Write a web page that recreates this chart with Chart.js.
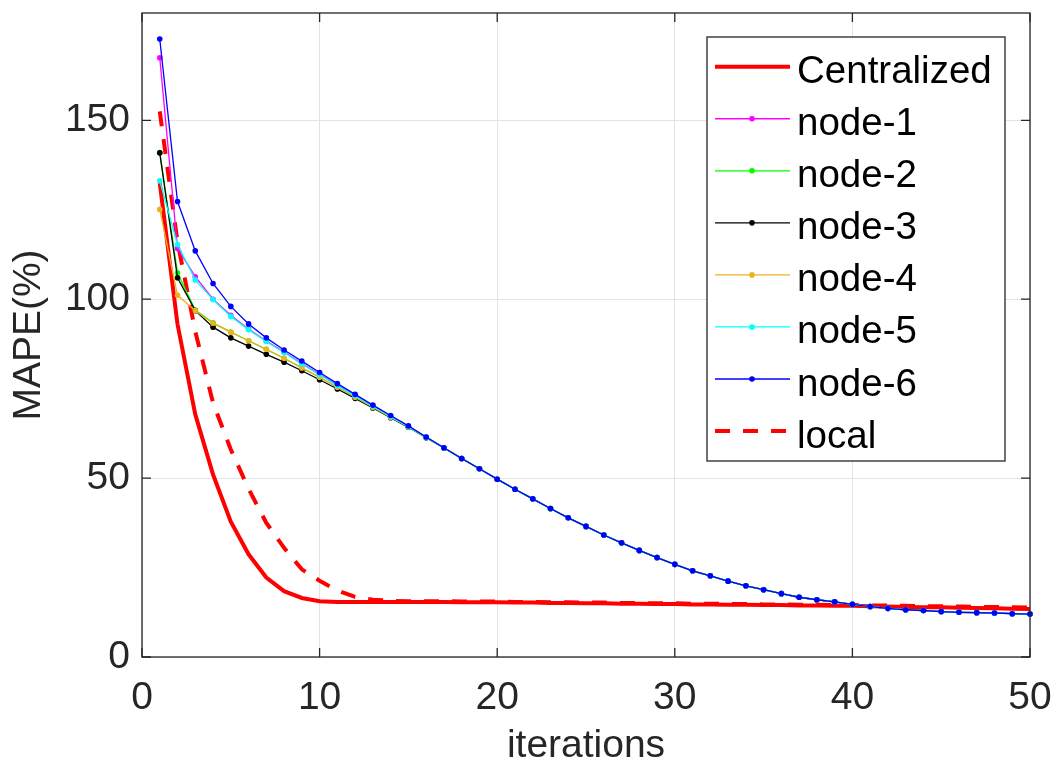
<!DOCTYPE html>
<html>
<head>
<meta charset="utf-8">
<script src="https://cdn.jsdelivr.net/npm/chart.js@4.4.1/dist/chart.umd.min.js"></script>
<style>
  html, body { margin: 0; padding: 0; background: #fff; }
  canvas { display: block; }
</style>
</head>
<body>
<canvas id="mapeChart" width="1064" height="773"></canvas>
<script>
// iteration numbers on the x axis
const iterations = [1, 2, 3, 4, 5, 6, 7, 8, 9, 10, 11, 12, 13, 14, 15, 16, 17, 18, 19, 20,
    21, 22, 23, 24, 25, 26, 27, 28, 29, 30, 31, 32, 33, 34, 35, 36, 37, 38, 39, 40,
    41, 42, 43, 44, 45, 46, 47, 48, 49, 50];

const xTickValues = [0, 10, 20, 30, 40, 50];
const yTickValues = [0, 50, 100, 150];

// MAPE (%) per iteration
const centralized = [132.5, 93.0, 67.8, 51.0, 37.8, 28.7, 22.2, 18.4, 16.5, 15.6,
    15.4, 15.4, 15.4, 15.4, 15.4, 15.4, 15.4, 15.3, 15.3, 15.3,
    15.2, 15.2, 15.1, 15.1, 15.0, 15.0, 14.9, 14.9, 14.8, 14.8,
    14.7, 14.7, 14.6, 14.6, 14.5, 14.5, 14.4, 14.4, 14.3, 14.3,
    14.2, 14.1, 14.0, 13.9, 13.9, 13.8, 13.7, 13.6, 13.5, 13.4];

const node1 = [167.5, 114.2, 106.3, 100.0, 95.5, 91.7, 88.3, 85.2, 82.0, 79.0,
    76.0, 73.1, 70.2, 67.3, 64.5, 61.5, 58.5, 55.5, 52.6, 49.7,
    46.9, 44.2, 41.5, 38.9, 36.5, 34.1, 31.9, 29.8, 27.8, 25.9,
    24.1, 22.7, 21.2, 19.9, 18.8, 17.7, 16.7, 16.0, 15.4, 14.7,
    14.1, 13.6, 13.2, 13.0, 12.7, 12.5, 12.4, 12.3, 12.1, 12.0];

const node2 = [141.0, 107.4, 97.0, 93.4, 90.8, 88.4, 86.0, 83.5, 80.8, 78.2,
    75.4, 72.6, 69.8, 67.0, 64.3, 61.4, 58.5, 55.5, 52.6, 49.7,
    46.9, 44.2, 41.5, 38.9, 36.5, 34.1, 31.9, 29.8, 27.8, 25.9,
    24.1, 22.7, 21.2, 19.9, 18.8, 17.7, 16.7, 16.0, 15.4, 14.7,
    14.1, 13.6, 13.2, 13.0, 12.7, 12.5, 12.4, 12.3, 12.1, 12.0];

const node3 = [140.9, 106.0, 96.8, 92.2, 89.2, 86.9, 84.6, 82.4, 80.0, 77.5,
    74.9, 72.3, 69.6, 66.9, 64.2, 61.3, 58.4, 55.5, 52.6, 49.7,
    46.9, 44.2, 41.5, 38.9, 36.5, 34.1, 31.9, 29.8, 27.8, 25.9,
    24.1, 22.7, 21.2, 19.9, 18.8, 17.7, 16.7, 16.0, 15.4, 14.7,
    14.1, 13.6, 13.2, 13.0, 12.7, 12.5, 12.4, 12.3, 12.1, 12.0];

const node4 = [125.1, 101.1, 96.8, 93.3, 90.8, 88.4, 86.0, 83.5, 80.8, 78.2,
    75.4, 72.6, 69.8, 67.0, 64.3, 61.4, 58.5, 55.5, 52.6, 49.7,
    46.9, 44.2, 41.5, 38.9, 36.5, 34.1, 31.9, 29.8, 27.8, 25.9,
    24.1, 22.7, 21.2, 19.9, 18.8, 17.7, 16.7, 16.0, 15.4, 14.7,
    14.1, 13.6, 13.2, 13.0, 12.7, 12.5, 12.4, 12.3, 12.1, 12.0];

const node5 = [133.1, 115.3, 105.4, 99.9, 95.2, 91.5, 88.2, 85.1, 81.9, 78.9,
    75.9, 73.0, 70.1, 67.2, 64.4, 61.4, 58.5, 55.5, 52.6, 49.7,
    46.9, 44.2, 41.5, 38.9, 36.5, 34.1, 31.9, 29.8, 27.8, 25.9,
    24.1, 22.7, 21.2, 19.9, 18.8, 17.7, 16.7, 16.0, 15.4, 14.7,
    14.1, 13.6, 13.2, 13.0, 12.7, 12.5, 12.4, 12.3, 12.1, 12.0];

const node6 = [172.7, 127.3, 113.5, 104.4, 98.0, 93.1, 89.2, 85.8, 82.7, 79.5,
    76.4, 73.4, 70.4, 67.5, 64.6, 61.5, 58.5, 55.5, 52.6, 49.7,
    46.9, 44.2, 41.5, 38.9, 36.5, 34.1, 31.9, 29.8, 27.8, 25.9,
    24.1, 22.7, 21.2, 19.9, 18.8, 17.7, 16.7, 16.0, 15.4, 14.7,
    14.1, 13.6, 13.2, 13.0, 12.7, 12.5, 12.4, 12.3, 12.1, 12.0];

const local = [152.5, 116.0, 91.0, 71.0, 58.0, 47.0, 37.5, 30.5, 24.5, 21.3,
    18.6, 16.8, 16.0, 15.7, 15.6, 15.6, 15.6, 15.5, 15.5, 15.5,
    15.4, 15.4, 15.3, 15.3, 15.2, 15.2, 15.1, 15.1, 15.0, 15.0,
    14.9, 14.9, 14.8, 14.8, 14.7, 14.7, 14.6, 14.6, 14.5, 14.5,
    14.4, 14.4, 14.3, 14.2, 14.2, 14.1, 14.0, 14.0, 13.9, 13.8];

const FONT = '"Liberation Sans", Arial, Helvetica, sans-serif';
const AXIS_COLOR = '#262626';

function toPoints(series) {
    return series.map((v, i) => ({ x: iterations[i], y: v }));
}

function redLine(label, data, dashed, order) {
    return {
        label: label,
        data: toPoints(data),
        borderColor: '#ff0000',
        backgroundColor: '#ff0000',
        borderWidth: 4,
        borderDash: dashed ? [15, 13] : [],
        pointRadius: 0,
        tension: 0,
        fill: false,
        clip: false,
        order: order
    };
}

function nodeLine(label, data, color, order) {
    return {
        label: label,
        data: toPoints(data),
        borderColor: color,
        backgroundColor: color,
        borderWidth: 1.3,
        pointRadius: 2.8,
        pointBorderWidth: 0,
        pointBackgroundColor: color,
        tension: 0,
        fill: false,
        clip: false,
        order: order
    };
}

// box around the axes plus inward ticks, like a matlab figure
const framePlugin = {
    id: 'frame',
    afterDatasetsDraw(chart) {
        const { ctx, chartArea: a, scales: { x, y } } = chart;
        ctx.save();
        ctx.strokeStyle = AXIS_COLOR;
        ctx.lineWidth = 1.3;
        ctx.beginPath();
        xTickValues.forEach(v => {
            const px = x.getPixelForValue(v);
            ctx.moveTo(px, a.bottom); ctx.lineTo(px, a.bottom - 9);
            ctx.moveTo(px, a.top); ctx.lineTo(px, a.top + 9);
        });
        yTickValues.forEach(v => {
            const py = y.getPixelForValue(v);
            ctx.moveTo(a.left, py); ctx.lineTo(a.left + 9, py);
            ctx.moveTo(a.right, py); ctx.lineTo(a.right - 9, py);
        });
        ctx.stroke();
        ctx.strokeRect(a.left, a.top, a.right - a.left, a.bottom - a.top);
        ctx.restore();
    }
};

// legend box in the upper right corner
const legendPlugin = {
    id: 'boxLegend',
    afterDraw(chart) {
        const ctx = chart.ctx;
        const box = { left: 707, top: 37, right: 1005, bottom: 461 };
        const rowGap = 52.05;
        ctx.save();
        ctx.fillStyle = '#ffffff';
        ctx.fillRect(box.left, box.top, box.right - box.left, box.bottom - box.top);
        ctx.strokeStyle = AXIS_COLOR;
        ctx.lineWidth = 1.3;
        ctx.strokeRect(box.left, box.top, box.right - box.left, box.bottom - box.top);

        chart.data.datasets.forEach((ds, i) => {
            const cy = 66.7 + i * rowGap;
            ctx.strokeStyle = ds.borderColor;
            ctx.lineWidth = ds.borderWidth;
            ctx.setLineDash(ds.borderDash || []);
            ctx.beginPath();
            ctx.moveTo(715, cy);
            ctx.lineTo(790, cy);
            ctx.stroke();
            ctx.setLineDash([]);
            if (ds.pointRadius > 0) {
                ctx.fillStyle = ds.borderColor;
                ctx.beginPath();
                ctx.arc(752, cy, ds.pointRadius, 0, Math.PI * 2);
                ctx.fill();
            }
            ctx.fillStyle = '#000000';
            ctx.font = '38.5px ' + FONT;
            ctx.textBaseline = 'alphabetic';
            ctx.textAlign = 'left';
            ctx.fillText(ds.label, 797, cy + 16.5);
        });
        ctx.restore();
    }
};

const ctx = document.getElementById('mapeChart').getContext('2d');

new Chart(ctx, {
    type: 'line',
    data: {
        datasets: [
            redLine('Centralized', centralized, false, 8),
            nodeLine('node-1', node1, '#ff00ff', 6),
            nodeLine('node-2', node2, '#00ff00', 5),
            nodeLine('node-3', node3, '#000000', 4),
            nodeLine('node-4', node4, '#edb120', 3),
            nodeLine('node-5', node5, '#00ffff', 2),
            nodeLine('node-6', node6, '#0000ff', 1),
            redLine('local', local, true, 7)
        ]
    },
    options: {
        responsive: false,
        animation: false,
        layout: {
            padding: { top: 13, right: 34, left: 0, bottom: 0 }
        },
        scales: {
            x: {
                type: 'linear',
                min: 0,
                max: 50,
                afterBuildTicks: scale => { scale.ticks = xTickValues.map(v => ({ value: v })); },
                afterFit: scale => {
                    scale.height = 116;
                    scale.paddingLeft = 0;
                    scale.paddingRight = 0;
                },
                grid: { color: '#e3e3e3', lineWidth: 1, drawTicks: false },
                border: { display: false },
                ticks: {
                    color: AXIS_COLOR,
                    padding: 18,
                    maxRotation: 0,
                    font: { family: FONT, size: 39 }
                },
                title: {
                    display: true,
                    text: 'iterations',
                    color: AXIS_COLOR,
                    padding: { top: 0, bottom: 3 },
                    font: { family: FONT, size: 39 }
                }
            },
            y: {
                type: 'linear',
                min: 0,
                max: 180,
                afterBuildTicks: scale => { scale.ticks = yTickValues.map(v => ({ value: v })); },
                afterFit: scale => {
                    scale.width = 142;
                    scale.paddingTop = 0;
                    scale.paddingBottom = 0;
                },
                grid: { color: '#e3e3e3', lineWidth: 1, drawTicks: false },
                border: { display: false },
                ticks: {
                    color: AXIS_COLOR,
                    padding: 12,
                    font: { family: FONT, size: 39 }
                },
                title: {
                    display: true,
                    text: 'MAPE(%)',
                    color: AXIS_COLOR,
                    padding: { top: 6, bottom: 0 },
                    font: { family: FONT, size: 39 }
                }
            }
        },
        plugins: {
            legend: { display: false },
            tooltip: { enabled: false }
        }
    },
    plugins: [framePlugin, legendPlugin]
});
</script>
</body>
</html>
